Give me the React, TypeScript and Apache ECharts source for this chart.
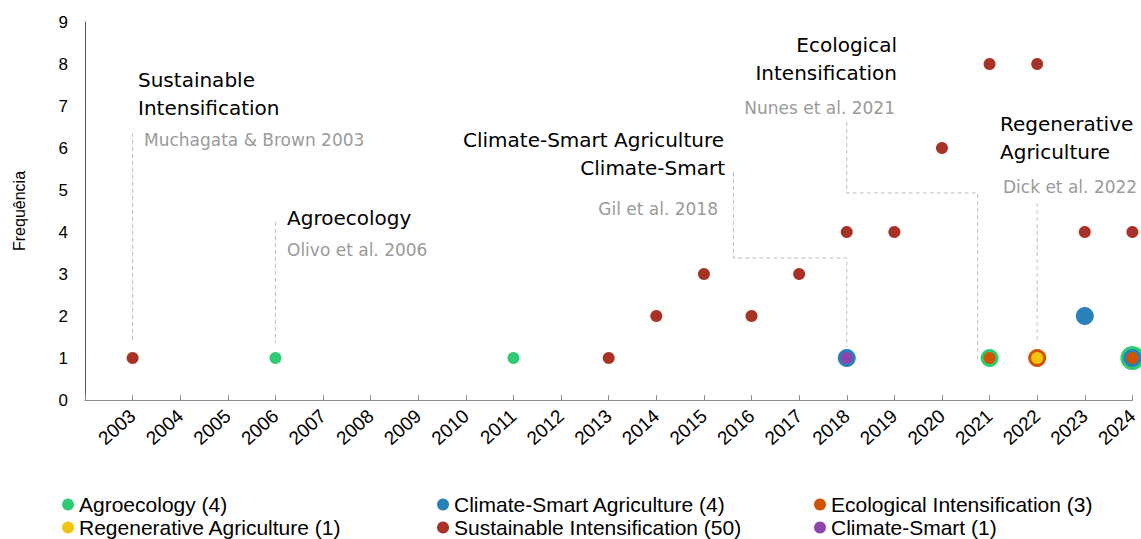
import React, { useEffect, useRef } from "react";
import * as echarts from "echarts";

const seriesNames = [
  "Agroecology",
  "Climate-Smart Agriculture",
  "Ecological Intensification",
  "Regenerative Agriculture",
  "Sustainable Intensification",
  "Climate-Smart",
];
const seriesColors = ["#2ECC71", "#2980B9", "#D35400", "#F1C40F", "#A93226", "#8E44AD"];

const agroYears = [2006, 2011, 2021, 2024];
const agroCounts = [1, 1, 1, 1];
const csaYears = [2018, 2023, 2024];
const csaCounts = [1, 2, 1];
const eiYears = [2021, 2022, 2024];
const eiCounts = [1, 1, 1];
const raYears = [2022];
const raCounts = [1];
const siYears = [2003, 2013, 2014, 2015, 2016, 2017, 2018, 2019, 2020, 2021, 2022, 2023, 2024];
const siCounts = [1, 1, 2, 3, 2, 3, 4, 4, 6, 8, 8, 4, 4];
const csYears = [2018];
const csCounts = [1];

const allYears = [agroYears, csaYears, eiYears, raYears, siYears, csYears];
const allCounts = [agroCounts, csaCounts, eiCounts, raCounts, siCounts, csCounts];

const yTicks = [0, 1, 2, 3, 4, 5, 6, 7, 8, 9];
const xMin = 2002;
const xMax = 2024;

const FONT = "'Liberation Sans', Arial, sans-serif";
const AFONT = "'DejaVu Sans', sans-serif";

export default function App() {
  const ref = useRef<HTMLDivElement>(null);
  useEffect(() => {
    const chart = echarts.init(ref.current!, null, { renderer: "svg" });

    const series = seriesNames.map((name, i) => {
      const data = allYears[i].map((y, k) => [y, allCounts[i][k]]);
      return {
        name,
        type: "scatter",
        clip: false,
        z: 2 + i,
        itemStyle: { color: seriesColors[i], opacity: 1 },
        symbol: "circle",
        symbolSize: (val: number[]) => {
          let above = 0;
          for (let j = i + 1; j < seriesNames.length; j++) {
            allYears[j].forEach((yy, kk) => {
              if (yy === val[0] && allCounts[j][kk] === val[1]) above++;
            });
          }
          let s = 12 + 6 * above;
          if (i === 1) s = Math.max(18, s);
          return s;
        },
        data,
      };
    });

    const legendCols = [62, 437, 814];
    const legendRows = [494, 517];
    const legends = seriesNames.map((name, i) => ({
      data: [{ name: `${name}`, icon: "circle" }],
      left: legendCols[i % 3],
      top: legendRows[Math.floor(i / 3)],
      padding: 0,
      itemWidth: 12,
      itemHeight: 12,
      formatter: (n: string) => `${n} (${allCounts[i].reduce((a, b) => a + b, 0)})`,
      textStyle: { fontFamily: FONT, fontSize: 21, lineHeight: 21, color: "#000" },
    }));

    chart.setOption({
      animation: false,
      grid: { left: 85, right: 6, top: 22, bottom: 139, containLabel: false },
      legend: legends,
      xAxis: {
        type: "value",
        min: xMin,
        max: xMax,
        interval: 1,
        splitLine: { show: false },
        axisLine: { show: true, lineStyle: { color: "#8c8c8c", width: 1 } },
        axisTick: { show: true, inside: true, length: 5, lineStyle: { color: "#8c8c8c" } },
        axisLabel: {
          rotate: 42,
          margin: 13,
          fontFamily: FONT,
          fontSize: 19,
          color: "#000",
          formatter: (v: number) => (v === xMin ? "" : String(v)),
        },
      },
      yAxis: {
        type: "value",
        min: 0,
        max: 9,
        interval: 1,
        name: "Frequência",
        nameLocation: "middle",
        nameGap: 58,
        nameTextStyle: { fontFamily: FONT, fontSize: 16, color: "#000" },
        splitLine: { show: false },
        axisLine: { show: true, lineStyle: { color: "#595959", width: 1 } },
        axisTick: { show: false },
        axisLabel: {
          fontFamily: FONT,
          fontSize: 17,
          color: "#000",
          margin: 17,
          formatter: (v: number) => (yTicks.includes(v) ? String(v) : ""),
        },
      },
      series,
    });

    const px = (x: number, y: number) => chart.convertToPixel({ gridIndex: 0 }, [x, y]) as number[];
    const dashed = { stroke: "#bfbfbf", lineWidth: 1, lineDash: [4, 3], fill: null };
    const leader = (pts: number[][]) => ({
      type: "polyline",
      silent: true,
      shape: { points: pts.map((p) => px(p[0], p[1])) },
      style: dashed,
    });
    const title = (text: string, x: number, y: number, align: string) => ({
      type: "text",
      x,
      y,
      style: {
        text,
        fill: "#000",
        font: `20px ${AFONT}`,
        align,
        verticalAlign: "middle",
      },
    });
    const cite = (text: string, x: number, y: number, align: string) => ({
      type: "text",
      x,
      y,
      style: {
        text,
        fill: "#9a9a9a",
        font: `17px ${AFONT}`,
        align,
        verticalAlign: "middle",
      },
    });

    chart.setOption({
      graphic: [
        leader([[2003, 6.36], [2003, 1.36]]),
        leader([[2006, 4.24], [2006, 1.36]]),
        leader([[2015.62, 5.43], [2015.62, 3.38], [2018, 3.38], [2018, 1.26]]),
        leader([[2018, 6.62], [2018, 4.93], [2020.75, 4.93], [2020.75, 0.95]]),
        leader([[2022, 4.69], [2022, 1.36]]),
        title("Sustainable", 138, 80, "left"),
        title("Intensification", 138, 108, "left"),
        cite("Muchagata & Brown 2003", 144, 140, "left"),
        title("Agroecology", 287, 218, "left"),
        cite("Olivo et al. 2006", 287, 250, "left"),
        title("Climate-Smart Agriculture", 724, 140, "right"),
        title("Climate-Smart", 725, 168, "right"),
        cite("Gil et al. 2018", 718, 209, "right"),
        title("Ecological", 897, 45, "right"),
        title("Intensification", 897, 73, "right"),
        cite("Nunes et al. 2021", 895, 108, "right"),
        title("Regenerative", 1000, 124, "left"),
        title("Agriculture", 1000, 152, "left"),
        cite("Dick et al. 2022", 1003, 187, "left"),
      ],
    });

    return () => chart.dispose();
  }, []);

  return (
    <div
      ref={ref}
      style={{ position: "fixed", left: 0, top: 0, width: 1141, height: 539, background: "#fff" }}
    />
  );
}
